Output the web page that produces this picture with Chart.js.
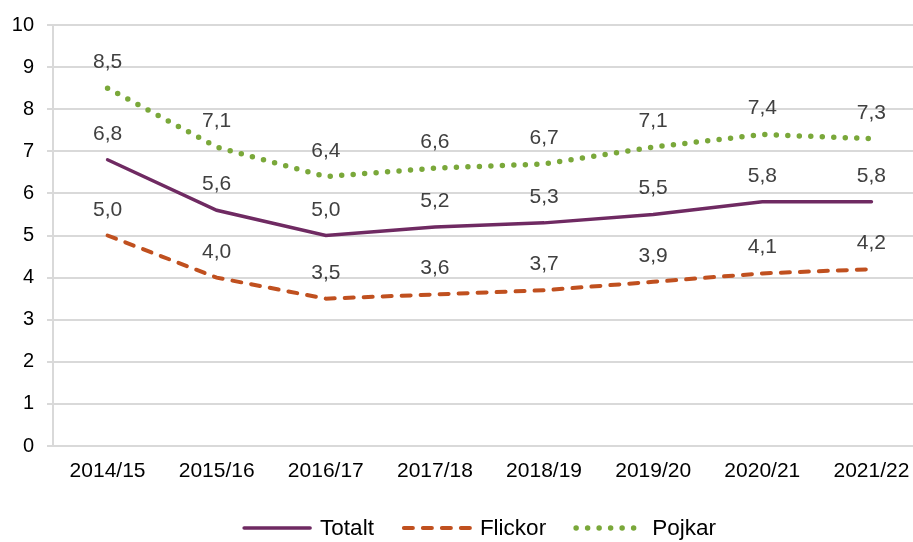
<!DOCTYPE html>
<html>
<head>
<meta charset="utf-8">
<script src="https://cdn.jsdelivr.net/npm/chart.js@4/dist/chart.umd.min.js"></script>
<style>
  html, body { margin: 0; padding: 0; background: #fff; overflow: hidden; }
  /* originalet är beskuret i högerkanten: ritytan är lite bredare än fönstret */
  #crop { width: 913px; height: 542px; overflow: hidden; }
  #wrap { width: 926px; height: 542px; position: relative; }
</style>
</head>
<body>
<div id="crop"><div id="wrap"><canvas id="linjer"></canvas></div></div>
<script>
var labels = ['2014/15', '2015/16', '2016/17', '2017/18', '2018/19', '2019/20', '2020/21', '2021/22'];
var totalt = [6.8, 5.6, 5.0, 5.2, 5.3, 5.5, 5.8, 5.8];
var flickor = [5.0, 4.0, 3.5, 3.6, 3.7, 3.9, 4.1, 4.2];
var pojkar = [8.5, 7.1, 6.4, 6.6, 6.7, 7.1, 7.4, 7.3];
var yTicks = [0, 1, 2, 3, 4, 5, 6, 7, 8, 9, 10];

var font = "'Liberation Sans', Arial, sans-serif";

/* värden ovanför varje punkt, med decimalkomma */
var valueLabels = {
    id: 'valueLabels',
    afterDatasetsDraw: function(chart) {
        var ctx = chart.ctx;
        ctx.save();
        ctx.font = '21px ' + font;
        ctx.fillStyle = '#404040';
        ctx.textAlign = 'center';
        ctx.textBaseline = 'alphabetic';
        chart.data.datasets.forEach(function(ds, i) {
            chart.getDatasetMeta(i).data.forEach(function(pt, j) {
                var txt = ds.data[j].toFixed(1).replace('.', ',');
                ctx.fillText(txt, pt.x, pt.y - 20);
            });
        });
        ctx.restore();
    }
};

/* egen legend: linje + text, centrerad under diagrammet */
var lineLegend = {
    id: 'lineLegend',
    afterDraw: function(chart) {
        var ctx = chart.ctx;
        var lineLen = 70, textGap = 8, itemGap = 28;
        ctx.save();
        ctx.font = '22.5px ' + font;
        var items = chart.data.datasets.map(function(ds) {
            return { ds: ds, w: lineLen + textGap + ctx.measureText(ds.label).width };
        });
        var total = items.reduce(function(s, it) { return s + it.w; }, 0) + itemGap * (items.length - 1);
        var cx = chart.width / 2 + 16;
        var x = cx - total / 2;
        var y = 528;
        items.forEach(function(it) {
            var ds = it.ds;
            ctx.beginPath();
            ctx.strokeStyle = ds.borderColor;
            ctx.lineWidth = ds.borderWidth;
            ctx.lineCap = ds.borderCapStyle || 'butt';
            ctx.setLineDash(ds.borderDash || []);
            ctx.moveTo(x + 2, y);
            ctx.lineTo(x + lineLen - 2, y);
            ctx.stroke();
            ctx.setLineDash([]);
            ctx.fillStyle = '#000';
            ctx.textAlign = 'left';
            ctx.textBaseline = 'middle';
            ctx.fillText(ds.label, x + lineLen + textGap, y + 1);
            x += it.w + itemGap;
        });
        ctx.restore();
    }
};

var ctx = document.getElementById('linjer').getContext('2d');
var chart = new Chart(ctx, {
    type: 'line',
    data: {
        labels: labels,
        datasets: [{
            label: 'Totalt',
            data: totalt,
            borderColor: '#6F2A62',
            borderWidth: 3.5,
            borderCapStyle: 'round'
        }, {
            label: 'Flickor',
            data: flickor,
            borderColor: '#C0501F',
            borderWidth: 4,
            borderDash: [9, 10],
            borderCapStyle: 'round'
        }, {
            label: 'Pojkar',
            data: pojkar,
            borderColor: '#7AA83A',
            borderWidth: 5.5,
            borderDash: [0, 11.5],
            borderCapStyle: 'round'
        }]
    },
    options: {
        responsive: true,
        maintainAspectRatio: false,
        animation: false,
        events: [],
        layout: { padding: { top: 24, right: 0, bottom: 0, left: 0 } },
        elements: {
            point: { radius: 0 },
            line: { tension: 0, fill: false }
        },
        plugins: {
            legend: { display: false },
            tooltip: { enabled: false }
        },
        scales: {
            x: {
                offset: true,
                grid: { display: false, drawTicks: false },
                border: { display: false },
                ticks: {
                    color: '#000',
                    font: { family: font, size: 21 },
                    padding: 13,
                    maxRotation: 0,
                    autoSkip: false
                },
                afterFit: function(scale) { scale.height = 96; }
            },
            y: {
                min: 0,
                max: 10,
                afterBuildTicks: function(scale) {
                    scale.ticks = yTicks.map(function(v) { return { value: v }; });
                },
                grid: { color: '#d9d9d9', lineWidth: 2, tickLength: 6 },
                border: { color: '#d9d9d9', width: 2 },
                ticks: {
                    color: '#000',
                    font: { family: font, size: 20 },
                    padding: 13
                },
                afterFit: function(scale) { scale.width = 53; }
            }
        }
    },
    plugins: [valueLabels, lineLegend]
});
</script>
</body>
</html>
